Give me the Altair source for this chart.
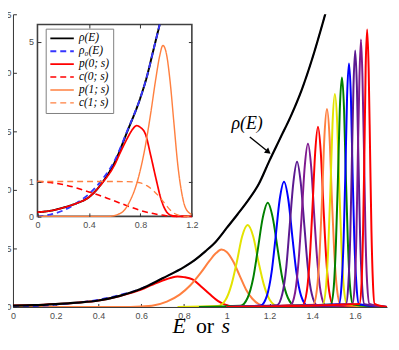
import altair as alt
import pandas as pd

# ---------------- data ----------------
E_GRID = [0, 0.1, 0.2, 0.3, 0.4, 0.5, 0.6, 0.7, 0.8, 0.85, 0.9, 0.95, 1.0, 1.05,
          1.1, 1.15, 1.2, 1.25, 1.3, 1.35, 1.4, 1.45, 1.47]
RHO = [0.12, 0.16, 0.25, 0.37, 0.55, 0.95, 1.55, 2.45, 3.4, 4.0, 4.75, 5.6, 6.75, 7.9,
       9.1, 10.5, 12.5, 14.4, 16.3, 18.5, 21.2, 24.3, 25.6]
RHO0 = [0.0, 0.05, 0.17, 0.37, 0.64, 1.04, 1.6, 2.47, 3.4, 4.0, 4.75, 5.6, 6.75, 7.9,
        9.1, 10.5, 12.5, 14.4, 16.3, 18.5, 21.2, 24.3, 25.6]

S_P0 = [0, 0.1, 0.2, 0.3, 0.4, 0.5, 0.6, 0.65, 0.7, 0.74, 0.77, 0.8, 0.84, 0.88, 0.92,
        0.96, 1.0, 1.04, 1.1, 1.2, 1.75]
P0 = [0.12, 0.16, 0.25, 0.37, 0.55, 0.94, 1.48, 1.88, 2.25, 2.5, 2.6, 2.55, 2.35, 1.75,
      1.1, 0.5, 0.15, 0.03, 0, 0, 0]
S_P1 = [0, 0.55, 0.65, 0.72, 0.78, 0.83, 0.88, 0.92, 0.95, 0.975, 1.0, 1.03, 1.06, 1.09,
        1.12, 1.15, 1.2, 1.25, 1.75]
P1 = [0, 0, 0.1, 0.45, 1.05, 1.85, 2.95, 3.95, 4.6, 4.9, 4.7, 3.9, 2.7, 1.5,
      0.7, 0.25, 0.05, 0, 0]
S_C0 = [0, 0.1, 0.2, 0.3, 0.4, 0.5, 0.6, 0.7, 0.8, 0.9, 1.0, 1.1, 1.2]
C0 = [1.0, 0.97, 0.91, 0.82, 0.7, 0.58, 0.44, 0.3, 0.17, 0.08, 0.02, 0, 0]
S_C1 = [0, 0.2, 0.4, 0.6, 0.7, 0.75, 0.8, 0.85, 0.9, 0.95, 1.0, 1.05, 1.1, 1.15, 1.2]
C1 = [1, 1, 1, 1, 0.995, 0.985, 0.96, 0.88, 0.74, 0.55, 0.32, 0.12, 0.03, 0, 0]

PEAK_S = [
    [0.77, 0.958, 0.995, 1.023, 1.047, 1.072, 1.098, 1.124, 1.149, 1.173, 1.201, 1.238, 1.75],
    [0.87, 1.064, 1.098, 1.124, 1.145, 1.169, 1.192, 1.215, 1.239, 1.260, 1.286, 1.320, 1.75],
    [1.0, 1.158, 1.188, 1.210, 1.228, 1.248, 1.268, 1.288, 1.308, 1.326, 1.348, 1.378, 1.75],
    [1.0, 1.235, 1.260, 1.279, 1.294, 1.312, 1.329, 1.346, 1.364, 1.379, 1.398, 1.423, 1.75],
    [1.0, 1.298, 1.320, 1.336, 1.350, 1.365, 1.380, 1.395, 1.410, 1.424, 1.440, 1.462, 1.75],
    [1.0, 1.356, 1.375, 1.389, 1.401, 1.414, 1.427, 1.440, 1.453, 1.465, 1.479, 1.498, 1.75],
    [1.0, 1.405, 1.422, 1.435, 1.446, 1.457, 1.469, 1.481, 1.492, 1.503, 1.516, 1.533, 1.75],
    [1.0, 1.449, 1.464, 1.475, 1.485, 1.495, 1.506, 1.517, 1.527, 1.537, 1.548, 1.563, 1.75],
    [1.0, 1.487, 1.501, 1.511, 1.520, 1.529, 1.539, 1.549, 1.558, 1.567, 1.577, 1.591, 1.75],
    [1.0, 1.525, 1.537, 1.547, 1.555, 1.563, 1.572, 1.581, 1.589, 1.597, 1.607, 1.619, 1.75],
    [1.0, 1.558, 1.569, 1.578, 1.585, 1.593, 1.601, 1.609, 1.617, 1.624, 1.633, 1.644, 1.75],
    [1.0, 1.588, 1.599, 1.607, 1.613, 1.621, 1.628, 1.635, 1.643, 1.649, 1.657, 1.668, 1.75],
    [1.0, 1.621, 1.631, 1.638, 1.644, 1.650, 1.657, 1.664, 1.671, 1.677, 1.684, 1.692, 1.75],
]
PEAK_P = [
    [0, 0.08, 0.62, 1.95, 3.82, 6.02, 7.0, 6.02, 3.82, 1.95, 0.62, 0.08, 0],
    [0, 0.10, 0.79, 2.47, 4.86, 7.65, 8.9, 7.65, 4.86, 2.47, 0.79, 0.10, 0],
    [0, 0.12, 0.95, 2.97, 5.84, 9.20, 10.7, 9.20, 5.84, 2.97, 0.95, 0.12, 0],
    [0, 0.14, 1.10, 3.45, 6.77, 10.66, 12.4, 10.66, 6.77, 3.45, 1.10, 0.14, 0],
    [0, 0.15, 1.24, 3.88, 7.62, 12.0, 13.95, 12.0, 7.62, 3.88, 1.24, 0.15, 0],
    [0, 0.17, 1.37, 4.28, 8.41, 13.24, 15.4, 13.24, 8.41, 4.28, 1.37, 0.17, 0],
    [0, 0.19, 1.50, 4.70, 9.23, 14.53, 16.9, 14.53, 9.23, 4.70, 1.50, 0.19, 0],
    [0, 0.20, 1.62, 5.06, 9.94, 15.65, 18.2, 15.65, 9.94, 5.06, 1.62, 0.20, 0],
    [0, 0.22, 1.74, 5.45, 10.70, 16.86, 19.6, 16.86, 10.70, 5.45, 1.74, 0.22, 0],
    [0, 0.23, 1.85, 5.78, 11.36, 17.89, 20.8, 17.89, 11.36, 5.78, 1.85, 0.23, 0],
    [0, 0.24, 1.95, 6.09, 11.96, 18.83, 21.9, 18.83, 11.96, 6.09, 1.95, 0.24, 0],
    [0, 0.25, 2.03, 6.35, 12.48, 19.65, 22.85, 19.65, 12.48, 6.35, 2.03, 0.25, 0],
    [0, 0.26, 2.11, 6.59, 12.94, 20.38, 23.7, 20.38, 12.94, 6.59, 2.11, 0.26, 0],
]
CYCLE = ["#FF0000", "#FF8040", "#E3E300", "#008000", "#0000FF", "#5B1A91", "#7F1A8F"]

SERIES = ["ρ(E)", "ρ₀(E)", "p(0; s)", "c(0; s)", "p(1; s)", "c(1; s)"]
SERIES_COLORS = ["#000000", "#3535FF", "#FF0000", "#FF0000", "#FF8040", "#FF8040"]
SERIES_DASH = [[1, 0], [6, 4], [1, 0], [6, 4], [1, 0], [6, 4]]
SERIES_WIDTH = [2, 1.3, 2, 1.3, 2, 1.3]

MAIN_XTICKS = [0, 0.2, 0.4, 0.6, 0.8, 1.0, 1.2, 1.4, 1.6]
MAIN_YTICKS = [0, 5, 10, 15, 20, 25]
INSET_XTICKS = [0, 0.4, 0.8, 1.2]
INSET_YTICKS = [0, 1, 5]
INSET_XDOM = [0, 1.2]
INSET_YDOM = [0, 5.5]

# ---------------- layout ----------------
W, H = 377, 295
IX0, IX1 = 24.7, 180.3      # inset x pixel range
IY0, IY1 = 203.7, 10.3      # inset y pixel range (bottom, top)

# ---------------- tables ----------------
curves = [(S_P0, P0), (S_P1, P1)] + list(zip(PEAK_S, PEAK_P))
peak_rows = []
for n, (ss, pp) in enumerate(curves):
    for s, p in zip(ss, pp):
        peak_rows.append({"n": n, "x": s, "y": p})
peaks_df = pd.DataFrame(peak_rows)
rho_df = pd.DataFrame({"x": E_GRID, "y": RHO})
rho0_df = pd.DataFrame({"x": E_GRID, "y": RHO0})

inset_rows = []
for name, ss, vv, smax in [(SERIES[0], E_GRID, RHO, 0.95), (SERIES[1], E_GRID, RHO0, 0.95),
                           (SERIES[2], S_P0, P0, 1.2), (SERIES[3], S_C0, C0, 1.2),
                           (SERIES[4], S_P1, P1, 1.2), (SERIES[5], S_C1, C1, 1.2)]:
    for s, v in zip(ss, vv):
        if s <= smax:
            inset_rows.append({"series": name, "x": s, "y": v})
inset_df = pd.DataFrame(inset_rows)
frame_df = pd.DataFrame({"x0": [INSET_XDOM[0]], "x1": [INSET_XDOM[1]],
                         "y0": [INSET_YDOM[0]], "y1": [INSET_YDOM[1]]})
one = pd.DataFrame({"a": [0]})

# ---------------- main panel ----------------
mx = alt.X("x:Q", scale=alt.Scale(domain=[0, 1.75], nice=False, zero=False),
           axis=alt.Axis(orient="top", offset=-H, values=MAIN_XTICKS, format=".1~f",
                         labelBaseline="top", labelPadding=-8, tickSize=3.5,
                         title=None, grid=False, labelFlush=False, zindex=0))
my = alt.Y("y:Q", scale=alt.Scale(domain=[0, 25], nice=False),
           axis=alt.Axis(orient="right", offset=-W, values=MAIN_YTICKS,
                         labelAlign="right", labelPadding=-5.5, tickSize=3.5,
                         title=None, grid=False, labelFlush=False, zindex=0))

peaks = alt.Chart(peaks_df).mark_line(interpolate="monotone", strokeWidth=2, clip=True).encode(
    x=mx, y=my,
    color=alt.Color("n:N", scale=alt.Scale(domain=list(range(len(curves))),
                                           range=[CYCLE[i % 7] for i in range(len(curves))]),
                    legend=None),
)
rho0_line = alt.Chart(rho0_df).mark_line(interpolate="monotone", strokeWidth=1.3,
                                         strokeDash=[6, 4], color="#3535FF", clip=True).encode(x=mx, y=my)
rho_line = alt.Chart(rho_df).mark_line(interpolate="monotone", strokeWidth=2.2,
                                       color="black", clip=True).encode(x=mx, y=my)

serif = "Liberation Serif"
ann = alt.Chart(one).mark_text(text="ρ(E)", font=serif, fontSize=18, fontStyle="italic",
                               align="center", baseline="alphabetic", color="black").encode(
    x=alt.value(236), y=alt.value(116))
arrow = alt.Chart(one).mark_rule(color="black", strokeWidth=1.4).encode(
    x=alt.value(238.7), y=alt.value(123.7), x2=alt.value(256.0), y2=alt.value(137.6))
head = alt.Chart(one).mark_point(shape="triangle", filled=True, size=45, angle=128.9,
                                 color="black", opacity=1).encode(
    x=alt.value(256.6), y=alt.value(138.1))
tE = alt.Chart(one).mark_text(text="E", font=serif, fontSize=22, fontStyle="italic",
                              align="center", baseline="alphabetic", color="black").encode(
    x=alt.value(167.5), y=alt.value(321))
tor = alt.Chart(one).mark_text(text="or", font=serif, fontSize=22,
                               align="center", baseline="alphabetic", color="black").encode(
    x=alt.value(193.5), y=alt.value(321))
ts = alt.Chart(one).mark_text(text="s", font=serif, fontSize=22, fontStyle="italic",
                              align="center", baseline="alphabetic", color="black").encode(
    x=alt.value(214.5), y=alt.value(321))

main = alt.layer(peaks, rho0_line, rho_line, ann, arrow, head, tE, tor, ts)

# ---------------- inset frame ----------------
fx = alt.X("x0:Q", scale=alt.Scale(domain=INSET_XDOM, range=[IX0, IX1], nice=False, zero=False),
           axis=alt.Axis(orient="bottom", offset=-(H - IY1), values=[0.4, 0.8], labels=False,
                         domain=False, tickSize=3.5, title=None, grid=False, zindex=1))
fy = alt.Y("y0:Q", scale=alt.Scale(domain=INSET_YDOM, range=[IY0, IY1], nice=False),
           axis=alt.Axis(orient="left", offset=-IX1, values=[1, 5], labels=False,
                         domain=False, tickSize=3.5, title=None, grid=False, zindex=1))
frame = alt.Chart(frame_df).mark_rect(fill="white", stroke="#404040", strokeWidth=1.6).encode(
    x=fx, x2="x1:Q", y=fy, y2="y1:Q")

# ---------------- inset curves ----------------
ix = alt.X("x:Q", scale=alt.Scale(domain=INSET_XDOM, range=[IX0, IX1], nice=False, zero=False),
           axis=alt.Axis(orient="top", offset=-IY0, values=INSET_XTICKS, format=".1~f",
                         labelBaseline="top", labelPadding=-8, tickSize=3.5, domain=False,
                         title=None, grid=False, labelFlush=False, zindex=1))
iy = alt.Y("y:Q", scale=alt.Scale(domain=INSET_YDOM, range=[IY0, IY1], nice=False, clamp=True),
           axis=alt.Axis(orient="right", offset=-(W - IX0), values=INSET_YTICKS,
                         labelAlign="right", labelPadding=-7.5, tickSize=3.5, domain=False,
                         title=None, grid=False, labelFlush=False, zindex=1))
leg = alt.Legend(orient="none", legendX=33, legendY=14.5, title=None, symbolType="stroke",
                 symbolSize=560, clipHeight=12.6, padding=3.5, fillColor="white",
                 strokeColor="#808080", labelFont=serif, labelFontStyle="italic",
                 labelFontSize=11.5, labelOffset=4, rowPadding=0, labelColor="black")
inset = alt.Chart(inset_df).mark_line(interpolate="monotone").encode(
    x=ix, y=iy,
    color=alt.Color("series:N", scale=alt.Scale(domain=SERIES, range=SERIES_COLORS), legend=leg),
    strokeDash=alt.StrokeDash("series:N", scale=alt.Scale(domain=SERIES, range=SERIES_DASH), legend=leg),
    strokeWidth=alt.StrokeWidth("series:N", scale=alt.Scale(domain=SERIES, range=SERIES_WIDTH), legend=leg),
    order=alt.Order("x:Q"),
)

chart = alt.layer(main, frame, inset).resolve_scale(
    x="independent", y="independent", color="independent",
    strokeDash="independent", strokeWidth="independent",
).properties(
    width=W, height=H,
    autosize=alt.AutoSizeParams(type="none"),
    padding={"left": 5, "top": 5, "right": 4, "bottom": 35},
    background="white",
).configure_view(strokeWidth=0).configure_axis(
    labelFont="Liberation Sans", labelFontSize=9, labelColor="#4d4d4d",
    domainColor="#333333", tickColor="#333333", domainWidth=1, tickWidth=1,
)

chart.save("out.html", embed_options={"renderer": "svg", "actions": False})
